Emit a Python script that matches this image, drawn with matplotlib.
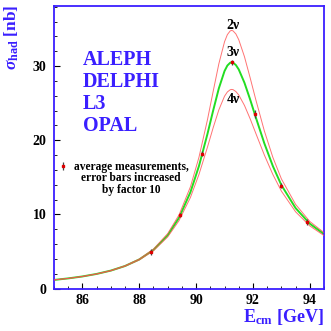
import matplotlib
matplotlib.use("Agg")
import matplotlib.pyplot as plt
from matplotlib.ticker import MultipleLocator

plt.rcParams['font.family'] = ['Liberation Serif', 'DejaVu Serif']
plt.rcParams['font.weight'] = 'bold'
plt.rcParams['mathtext.fontset'] = 'custom'
plt.rcParams['mathtext.rm'] = 'Liberation Serif:bold'
plt.rcParams['mathtext.it'] = 'Liberation Serif:bold:italic'
plt.rcParams['mathtext.bf'] = 'Liberation Serif:bold'

# curve values (nb)
energy = [85.0, 85.5, 86.0, 86.5, 87.0, 87.5, 88.0, 88.5, 89.0, 89.4, 89.8, 90.1,
          90.4, 90.6, 90.8, 91.0, 91.1, 91.2, 91.25, 91.3, 91.4, 91.5, 91.7, 91.9,
          92.1, 92.4, 92.7, 93.0, 93.5, 94.0, 94.5]
sigma_3nu = [1.17, 1.38, 1.64, 1.98, 2.43, 3.05, 3.93, 5.22, 7.19, 9.56, 13.0, 16.52,
             20.86, 24.01, 27.0, 29.33, 30.07, 30.45, 30.5, 30.46, 30.13, 29.54, 27.75, 25.5,
             23.08, 19.58, 16.51, 13.95, 10.85, 8.75, 7.35]
sigma_2nu = [1.18, 1.38, 1.65, 1.99, 2.45, 3.09, 3.99, 5.33, 7.41, 9.94, 13.72, 17.7,
             22.78, 26.59, 30.31, 33.28, 34.24, 34.74, 34.8, 34.74, 34.32, 33.55, 31.27, 28.43,
             25.46, 21.26, 17.69, 14.79, 11.35, 9.05, 7.55]
sigma_4nu = [1.17, 1.37, 1.62, 1.96, 2.4, 3.01, 3.86, 5.1, 6.97, 9.17, 12.29, 15.39,
             19.08, 21.69, 24.1, 25.94, 26.51, 26.81, 26.85, 26.82, 26.56, 26.1, 24.7, 22.9,
             20.93, 18.01, 15.38, 13.14, 10.35, 8.45, 7.15]

# averaged measurements, errors x10
meas_e = [88.42, 89.44, 90.22, 91.25, 92.07, 93.0, 93.9]
meas_sigma = [4.95, 9.9, 18.2, 30.5, 23.5, 13.9, 9.0]
meas_err = [0.35, 0.3, 0.35, 0.3, 0.55, 0.3, 0.4]

experiments = ['ALEPH', 'DELPHI', 'L3', 'OPAL']
blue = '#3a1fff'

fig = plt.figure(figsize=(3.31, 3.31), dpi=100)
ax = fig.add_axes([0.163, 0.128, 0.816, 0.854])

ax.plot(energy, sigma_3nu, color='#22dd22', lw=1.4, zorder=2)
ax.plot(energy, sigma_2nu, color='#ff5050', lw=0.7, alpha=0.8, zorder=3)
ax.plot(energy, sigma_4nu, color='#ff5050', lw=0.7, alpha=0.8, zorder=3)
ax.errorbar(meas_e, meas_sigma, yerr=meas_err, fmt='s', color='#dd0000',
            ms=2.0, ecolor='#444444', elinewidth=0.9, capsize=0, zorder=4)

ax.text(91.3, 35.5, '2ν', ha='center', va='center', fontsize=10)
ax.text(91.3, 31.8, '3ν', ha='center', va='center', fontsize=10)
ax.text(91.3, 25.55, '4ν', ha='center', va='center', fontsize=10)

for i, name in enumerate(experiments):
    ax.text(86.02, 30.16 - 2.97 * i, name, color=blue, fontsize=14.5,
            ha='left', va='baseline')

ax.errorbar([85.32], [16.53], yerr=[0.5], fmt='s', color='#dd0000', ms=2.0,
            ecolor='#444444', elinewidth=0.9, capsize=0)
ax.text(87.72, 17.25, 'average measurements,\nerror bars increased\nby factor 10',
        ha='center', va='top', fontsize=8.3, linespacing=0.95)

ax.set_xlim(85.0, 94.5)
ax.set_ylim(0, 38.1)
ax.xaxis.set_major_locator(MultipleLocator(2))
ax.xaxis.set_minor_locator(MultipleLocator(0.5))
ax.yaxis.set_major_locator(MultipleLocator(10))
ax.yaxis.set_minor_locator(MultipleLocator(2))
ax.tick_params(which='both', direction='in', top=False, right=False, labelsize=10)
ax.tick_params(axis='y', which='major', length=4.5, width=0.8, pad=5.5)
ax.tick_params(axis='y', which='minor', length=2.2, width=0.6)
ax.tick_params(axis='x', which='major', length=4, width=0.8, pad=4)
ax.tick_params(axis='x', which='minor', length=2, width=0.6)
for s in ax.spines.values():
    s.set_color(blue)
    s.set_linewidth(1.3)

fig.text(0.036, 0.985, r'$\sigma_{\rm had}$ [nb]', rotation=90, color=blue,
         ha='center', va='top', fontsize=12.5)
fig.text(0.979, 0.027, r'E$_{\rm cm}$ [GeV]', color=blue, ha='right', va='baseline',
         fontsize=13)

fig.savefig('out.png', dpi=100)
